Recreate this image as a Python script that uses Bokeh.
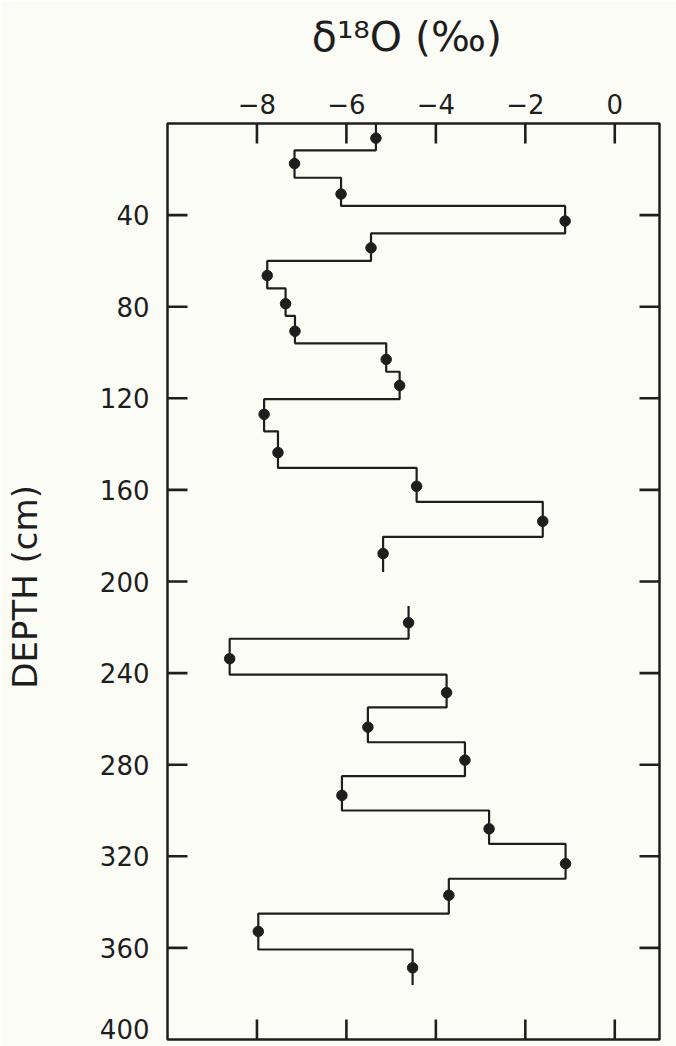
import math
from bokeh.plotting import figure
from bokeh.models import Range1d, LinearAxis, FixedTicker
from bokeh.embed import file_html
from bokeh.resources import INLINE

# delta 18O value of each sample (per mil)
value = [-5.34, -7.16, -6.12, -1.11, -5.45, -7.77, -7.36, -7.15, -5.11, -4.81,
         -7.84, -7.53, -4.43, -1.61, -5.18,
         -4.61, -8.61, -3.76, -5.52, -3.35, -6.10, -2.81, -1.10, -3.71, -7.97, -4.52]
# top and bottom depth of each sample interval (cm)
top = [0, 11.7, 23.7, 36, 48, 60, 72, 84, 96, 108.4, 120.4, 134.4, 150.4, 165.2, 180.5,
       210.7, 225, 240.7, 255, 270.2, 285, 300, 314.6, 329.8, 345, 360.7]
bottom = [11.7, 23.7, 36, 48, 60, 72, 84, 96, 108.4, 120.4, 134.4, 150.4, 165.2, 180.5, 195.8,
          225, 240.7, 255, 270.2, 285, 300, 314.6, 329.8, 345, 360.7, 376.2]
# depth of each plotted sample point (cm)
point_depth = [6.4, 17.5, 30.8, 42.6, 54.3, 66.4, 78.7, 90.7, 103, 114.4, 127, 143.7,
               158.4, 173.7, 187.8, 218, 233.7, 248.5, 263.6, 278, 293.4, 308, 323.2,
               337, 352.8, 368.7]

x_ticks = [-8, -6, -4, -2, 0]
depth_ticks = [40, 80, 120, 160, 200, 240, 280, 320, 360, 400]
X_MIN, X_MAX = -10, 1
D_MIN, D_MAX = 0, 400
# the lowest depth label is printed just above the frame edge instead of centred on it
LAST_LABEL_LIFT = 4.8

W, H = 676, 1046
B_LEFT, B_RIGHT, B_TOP, B_BOTTOM = 167, 17, 123, 7
INK = "#1e1e1e"
BG = "#fcfcf7"
FONT = "DejaVu Sans"
TICK_PX = 20
TICK_W = 2.6

# half tick length in data units of each axis (tick marks are centred dash markers)
frame_w = W - B_LEFT - B_RIGHT
frame_h = H - B_TOP - B_BOTTOM
half_dx = 0.5 * TICK_PX * (X_MAX - X_MIN) / frame_w
half_dd = 0.5 * TICK_PX * (D_MAX - D_MIN) / frame_h

NAN = float("nan")

# build the step path, breaking where intervals are not contiguous
xs, ys = [], []
for i, v in enumerate(value):
    if i > 0 and abs(top[i] - bottom[i - 1]) > 1e-9:
        xs.append(NAN)
        ys.append(NAN)
    xs += [v, v]
    ys += [top[i], bottom[i]]

# inward tick marks: vertical ones along top and bottom, horizontal along the sides
vx = x_ticks + x_ticks
vy = [D_MIN + half_dd] * len(x_ticks) + [D_MAX - half_dd] * len(x_ticks)
inner_d = depth_ticks[:-1]
hx = [X_MIN + half_dx] * len(inner_d) + [X_MAX - half_dx] * len(inner_d)
hy = inner_d + inner_d

p = figure(width=W, height=H, output_backend="svg", toolbar_location=None,
           x_range=Range1d(X_MIN, X_MAX), y_range=Range1d(D_MAX, D_MIN),
           x_axis_location=None, y_axis_location=None,
           min_border_left=B_LEFT, min_border_right=B_RIGHT,
           min_border_top=B_TOP, min_border_bottom=B_BOTTOM)
p.background_fill_color = BG
p.border_fill_color = BG
p.outline_line_color = INK
p.outline_line_width = 2.5
p.xgrid.visible = False
p.ygrid.visible = False


def style(ax, ticks):
    ax.ticker = FixedTicker(ticks=ticks)
    ax.major_tick_in = 0
    ax.major_tick_out = 0
    ax.minor_tick_line_color = None
    ax.major_tick_line_color = None
    ax.axis_line_color = None
    ax.major_label_text_font = FONT
    ax.major_label_text_font_size = "26px"
    ax.major_label_text_color = INK


top_ax = LinearAxis()
style(top_ax, x_ticks)
top_ax.major_label_standoff = 10
top_ax.axis_label = "δ¹⁸O  (‰)"
top_ax.axis_label_text_font = FONT
top_ax.axis_label_text_font_size = "41px"
top_ax.axis_label_text_font_style = "normal"
top_ax.axis_label_text_color = INK
top_ax.axis_label_standoff = 30
p.add_layout(top_ax, "above")

label_pos = depth_ticks[:-1] + [depth_ticks[-1] - LAST_LABEL_LIFT]
left_ax = LinearAxis()
style(left_ax, label_pos)
left_ax.major_label_overrides = {label_pos[-1]: str(depth_ticks[-1])}
left_ax.major_label_standoff = 18
left_ax.axis_label = "DEPTH  (cm)"
left_ax.axis_label_text_font = FONT
left_ax.axis_label_text_font_size = "34px"
left_ax.axis_label_text_font_style = "normal"
left_ax.axis_label_text_color = INK
left_ax.axis_label_standoff = 52
p.add_layout(left_ax, "left")

p.scatter(vx, vy, marker="dash", size=TICK_PX, angle=math.pi / 2,
          line_color=INK, line_width=TICK_W)
p.scatter(hx, hy, marker="dash", size=TICK_PX, angle=0,
          line_color=INK, line_width=TICK_W)
p.line(xs, ys, line_color=INK, line_width=2.2)
p.scatter(value, point_depth, size=10.5, fill_color=INK, line_color=INK)

open("out.html", "w").write(file_html(p, INLINE))
